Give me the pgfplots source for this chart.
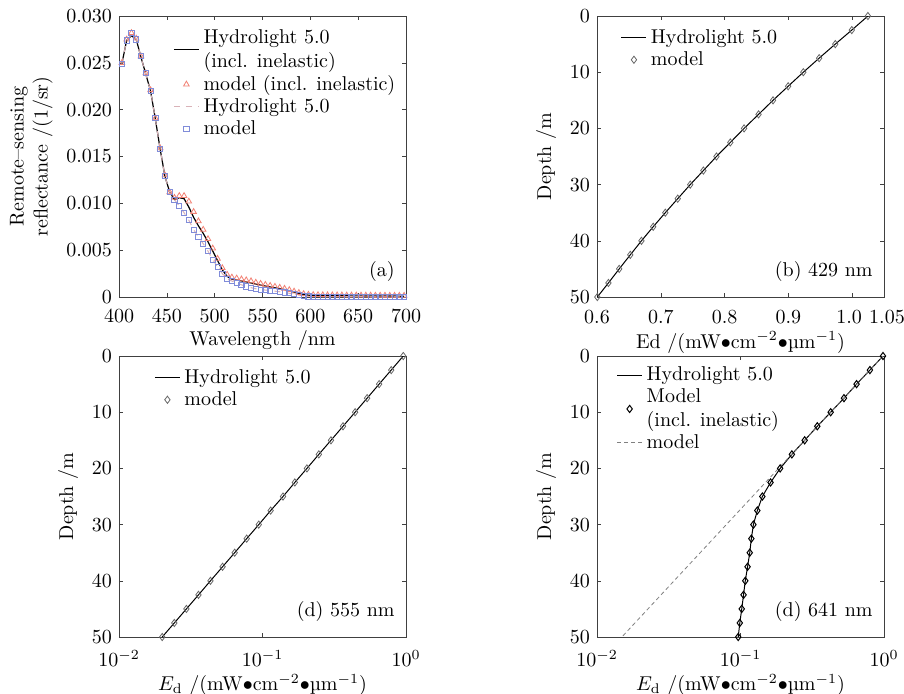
\documentclass[border=0pt]{standalone}
\usepackage{pgfplots}
\pgfplotsset{compat=1.18}
\definecolor{hlel}{rgb}{0.85,0.70,0.72}
\definecolor{tri}{rgb}{0.95,0.50,0.45}
\definecolor{sq}{rgb}{0.50,0.55,0.85}

\pgfplotsset{
  panel/.style={
    width=143.5pt, height=140.5pt, scale only axis,
    anchor=south west,
    axis line style={black!75},
    major tick length=2pt,
    tick style={black!75},
    tick label style={font=\normalsize},
    xticklabel style={yshift=-3pt},
    label style={font=\normalsize},
    xlabel style={yshift=3pt},
    legend style={draw=none, fill=none, font=\normalsize, cells={anchor=west, align=left},
      row sep=-1.5pt, inner sep=1pt},
    legend image code/.code={\draw[mark repeat=2,mark phase=2,##1] plot coordinates {(0cm,0cm) (0.22cm,0cm) (0.44cm,0cm)};},
  },
  depth/.style={
    ymin=0, ymax=50, y dir=reverse,
    ytick={0,10,20,30,40,50},
    ylabel={Depth /m},
  },
}

\begin{document}
\begin{tikzpicture}
\useasboundingbox (0,0) rectangle (452pt,346.5pt);

% (a) remote-sensing reflectance
\begin{axis}[panel, at={(59.5pt,198pt)},
  xmin=400, xmax=700, ymin=0, ymax=0.030,
  xtick={400,450,500,550,600,650,700},
  ytick={0,0.005,0.010,0.015,0.020,0.025,0.030},
  yticklabels={0,0.005,0.010,0.015,0.020,0.025,0.030},
  scaled y ticks=false,
  xlabel={Wavelength /nm},
  ylabel={Remote--sensing\\reflectance /(1/sr)},
  ylabel style={align=center},
  legend style={at={(0.985,0.975)}, anchor=north east},
]
\addplot[black, line width=0.6pt] coordinates {
(403,0.0249)(408,0.0274)(413,0.0279)(418,0.0275)(423,0.0256)(428,0.0238)
(433,0.0220)(438,0.0190)(443,0.0158)(448,0.0129)(453,0.0112)(458,0.0104)
(463,0.0106)(468,0.0105)(473,0.0096)(478,0.0085)(483,0.0076)(488,0.0068)
(493,0.0059)(498,0.0049)(503,0.0039)(508,0.0029)(513,0.0022)(518,0.0019)
(523,0.00182)(528,0.00172)(533,0.00162)(538,0.00150)(543,0.00138)(548,0.00127)
(553,0.00117)(558,0.00107)(563,0.00099)(568,0.00090)(573,0.00080)(578,0.00066)
(583,0.00052)(588,0.00038)(593,0.00027)(598,0.00020)(603,0.00017)(608,0.00016)
(613,0.00015)(618,0.00014)(623,0.00014)(628,0.00013)(633,0.00013)(638,0.00013)
(643,0.00012)(648,0.00012)(653,0.00012)(658,0.00011)(663,0.00011)(668,0.00011)
(673,0.00010)(678,0.00010)(683,0.00010)(688,0.00010)(693,0.00009)(698,0.00009)
};
\addplot[only marks, mark=triangle, mark size=1.6pt, tri, mark options={line width=0.4pt}] coordinates {
(403,0.0250)(408,0.0275)(413,0.0282)(418,0.0276)(423,0.0257)(428,0.0239)
(433,0.0221)(438,0.0191)(443,0.0159)(448,0.0130)(453,0.0112)(458,0.0106)
(463,0.0108)(468,0.0108)(473,0.0102)(478,0.0091)(483,0.0081)(488,0.0072)
(493,0.0062)(498,0.0052)(503,0.0041)(508,0.0031)(513,0.0024)(518,0.0021)
(523,0.0020)(528,0.0019)(533,0.0018)(538,0.0017)(543,0.00155)(548,0.00143)
(553,0.00132)(558,0.00121)(563,0.00111)(568,0.00101)(573,0.00090)(578,0.00076)
(583,0.00060)(588,0.00045)(593,0.00033)(598,0.00026)(603,0.00023)(608,0.00022)
(613,0.00021)(618,0.00020)(623,0.00020)(628,0.00019)(633,0.00019)(638,0.00018)
(643,0.00018)(648,0.00018)(653,0.00017)(658,0.00017)(663,0.00017)(668,0.00016)
(673,0.00016)(678,0.00016)(683,0.00015)(688,0.00015)(693,0.00015)(698,0.00015)
};
\addplot[hlel, dashed, line width=0.5pt] coordinates {
(403,0.0249)(408,0.0274)(413,0.0280)(418,0.0275)(423,0.0256)(428,0.0238)
(433,0.0220)(438,0.0190)(443,0.0158)(448,0.0129)(453,0.0112)(458,0.0104)
(463,0.0097)(468,0.0090)(473,0.0082)(478,0.0072)(483,0.0064)(488,0.0057)
(493,0.0049)(498,0.0040)(503,0.0032)(508,0.0025)(513,0.0019)(518,0.0017)
(523,0.0015)(528,0.0013)(533,0.00114)(538,0.00100)(543,0.00088)(548,0.00080)
(553,0.00074)(558,0.00068)(563,0.00062)(568,0.00056)(573,0.00049)(578,0.00040)
(583,0.00030)(588,0.00020)(593,0.00012)(598,0.00007)(603,0.00005)(608,0.00004)
(613,0.00004)(618,0.00004)(623,0.00003)(628,0.00003)(633,0.00003)(638,0.00003)
(643,0.00003)(648,0.00003)(653,0.00003)(658,0.00002)(663,0.00002)(668,0.00002)
(673,0.00002)(678,0.00002)(683,0.00002)(688,0.00002)(693,0.00002)(698,0.00002)
};
\addplot[only marks, mark=square, mark size=1.3pt, sq, mark options={line width=0.4pt}] coordinates {
(403,0.0249)(408,0.0274)(413,0.0282)(418,0.0275)(423,0.0257)(428,0.0239)
(433,0.0220)(438,0.0191)(443,0.0158)(448,0.0129)(453,0.0112)(458,0.0104)
(463,0.0097)(468,0.0090)(473,0.0082)(478,0.0072)(483,0.0064)(488,0.0057)
(493,0.0049)(498,0.0040)(503,0.0032)(508,0.0025)(513,0.0019)(518,0.0017)
(523,0.0015)(528,0.0013)(533,0.00114)(538,0.00100)(543,0.00088)(548,0.00080)
(553,0.00074)(558,0.00068)(563,0.00062)(568,0.00056)(573,0.00049)(578,0.00040)
(583,0.00030)(588,0.00020)(593,0.00012)(598,0.00007)(603,0.00005)(608,0.00004)
(613,0.00004)(618,0.00004)(623,0.00003)(628,0.00003)(633,0.00003)(638,0.00003)
(643,0.00003)(648,0.00003)(653,0.00003)(658,0.00002)(663,0.00002)(668,0.00002)
(673,0.00002)(678,0.00002)(683,0.00002)(688,0.00002)(693,0.00002)(698,0.00002)
};
\legend{Hydrolight 5.0\\(incl. inelastic), model (incl. inelastic), Hydrolight 5.0, model}
\node[anchor=south east] at (rel axis cs:0.985,0.03) {(a)};
\end{axis}

% (b) 429 nm
\begin{axis}[panel, depth, at={(298.5pt,198pt)},
  xmin=0.6, xmax=1.05,
  xtick={0.6,0.7,0.8,0.9,1.0,1.05},
  xticklabels={0.6,0.7,0.8,0.9,1.0\kern3pt,\kern3pt1.05},
  xlabel={Ed /(mW$\bullet$cm$^{-2}\bullet$\textmu m$^{-1}$)},
  legend style={at={(0.075,0.975)}, anchor=north west},
]
\addplot[black, line width=0.5pt] coordinates {
(1.0248,0)(0.9995,2.5)(0.9736,5)(0.9483,7.5)(0.9235,10)(0.8997,12.5)(0.8760,15)
(0.8533,17.5)(0.8306,20)(0.8090,22.5)(0.7873,25)(0.7668,27.5)(0.7462,30)
(0.7266,32.5)(0.7071,35)(0.6881,37.5)(0.6697,40)(0.6522,42.5)(0.6348,45)
(0.6179,47.5)(0.6005,50)
};
\addplot[only marks, mark=diamond, mark size=1.8pt, black!60, mark options={fill=white, line width=0.4pt}] coordinates {
(1.0248,0)(0.9995,2.5)(0.9736,5)(0.9483,7.5)(0.9235,10)(0.8997,12.5)(0.8760,15)
(0.8533,17.5)(0.8306,20)(0.8090,22.5)(0.7873,25)(0.7668,27.5)(0.7462,30)
(0.7266,32.5)(0.7071,35)(0.6881,37.5)(0.6697,40)(0.6522,42.5)(0.6348,45)
(0.6179,47.5)(0.6005,50)
};
\legend{Hydrolight 5.0, model}
\node[anchor=south east] at (rel axis cs:0.985,0.03) {(b) 429 nm};
\end{axis}

% (c) 555 nm
\begin{axis}[panel, depth, at={(59.5pt,28pt)},
  xmode=log, xmin=0.01, xmax=1,
  xtick={0.01,0.1,1}, xminorticks=false,
  xlabel={$E_\mathrm{d}$ /(mW$\bullet$cm$^{-2}\bullet$\textmu m$^{-1}$)},
  legend style={at={(0.115,0.975)}, anchor=north west},
]
\addplot[black, line width=0.5pt] coordinates {
(0.957,0)(0.789,2.5)(0.650,5)(0.536,7.5)(0.442,10)(0.364,12.5)(0.300,15)
(0.247,17.5)(0.204,20)(0.168,22.5)(0.139,25)(0.114,27.5)(0.0942,30)
(0.0776,32.5)(0.0640,35)(0.0527,37.5)(0.0434,40)(0.0358,42.5)(0.0295,45)
(0.0243,47.5)(0.0200,50)
};
\addplot[only marks, mark=diamond, mark size=1.8pt, black!60, mark options={fill=white, line width=0.4pt}] coordinates {
(0.957,0)(0.789,2.5)(0.650,5)(0.536,7.5)(0.442,10)(0.364,12.5)(0.300,15)
(0.247,17.5)(0.204,20)(0.168,22.5)(0.139,25)(0.114,27.5)(0.0942,30)
(0.0776,32.5)(0.0640,35)(0.0527,37.5)(0.0434,40)(0.0358,42.5)(0.0295,45)
(0.0243,47.5)(0.0200,50)
};
\legend{Hydrolight 5.0, model}
\node[anchor=south east] at (rel axis cs:0.985,0.03) {(d) 555 nm};
\end{axis}

% (d) 641 nm
\begin{axis}[panel, depth, at={(298.5pt,28pt)},
  xmode=log, xmin=0.01, xmax=1,
  xtick={0.01,0.1,1}, xminorticks=false,
  xlabel={$E_\mathrm{d}$ /(mW$\bullet$cm$^{-2}\bullet$\textmu m$^{-1}$)},
  legend style={at={(0.06,0.985)}, anchor=north west},
]
\addplot[black, line width=0.5pt] coordinates {
(0.984,0)(0.798,2.5)(0.644,5)(0.526,7.5)(0.425,10)(0.343,12.5)(0.280,15)
(0.228,17.5)(0.189,20)(0.162,22.5)(0.142,25)(0.131,27.5)(0.123,30)
(0.119,32.5)(0.116,35)(0.112,37.5)(0.108,40)(0.105,42.5)(0.102,45)
(0.0989,47.5)(0.0964,50)
};
\addplot[only marks, mark=diamond, mark size=1.8pt, black, mark options={fill=white, line width=0.5pt}] coordinates {
(0.984,0)(0.798,2.5)(0.644,5)(0.526,7.5)(0.425,10)(0.343,12.5)(0.280,15)
(0.228,17.5)(0.189,20)(0.162,22.5)(0.142,25)(0.131,27.5)(0.123,30)
(0.119,32.5)(0.116,35)(0.112,37.5)(0.108,40)(0.105,42.5)(0.102,45)
(0.0989,47.5)(0.0964,50)
};
\addplot[gray, dashed, line width=0.4pt, dash pattern=on 2pt off 1.5pt] coordinates {
(0.984,0)(0.0149,50)
};
\legend{Hydrolight 5.0, Model\\(incl. inelastic), model}
\node[anchor=south east] at (rel axis cs:0.985,0.03) {(d) 641 nm};
\end{axis}
\end{tikzpicture}
\end{document}
